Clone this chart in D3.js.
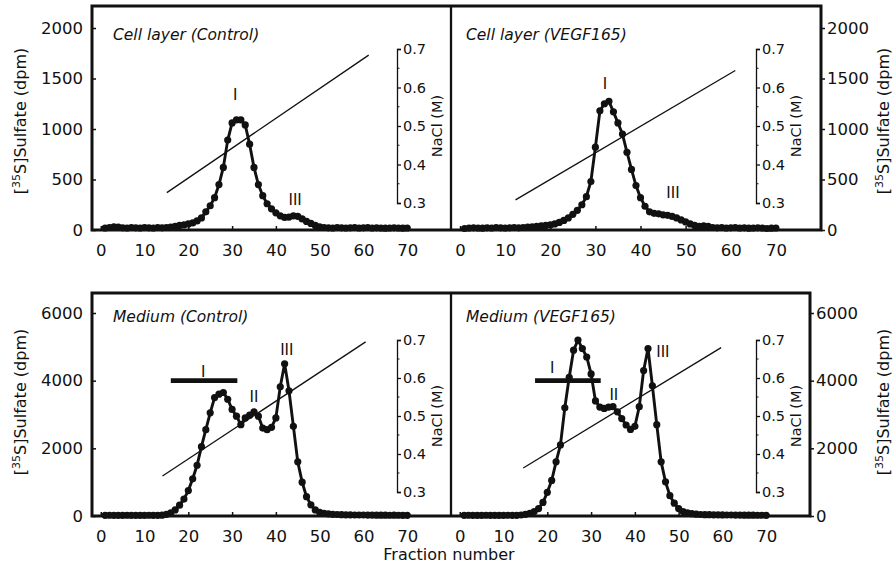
<!DOCTYPE html>
<html>
<head>
<meta charset="utf-8">
<script src="https://cdn.jsdelivr.net/npm/d3@7"></script>
<style>
  body { margin: 0; background: #fff; }
  svg { display: block; font-family: "DejaVu Sans", "Liberation Sans", Arial, sans-serif; }
</style>
</head>
<body>
<svg id="chart" width="896" height="564"></svg>
<script>
// tick values
const fractionTicks = [0, 10, 20, 30, 40, 50, 60, 70];
const cellTicks = [0, 500, 1000, 1500, 2000];
const mediumTicks = [0, 2000, 4000, 6000];
const naclTicks = [0.3, 0.4, 0.5, 0.6, 0.7];
const naclMinorTicks = [0.35, 0.45, 0.55, 0.65];

// [35S]sulfate (dpm) for fractions 1..70
const cellControl = [
  20, 25, 30, 28, 22, 20, 25, 22, 20, 25,
  22, 20, 25, 22, 25, 28, 35, 45, 50, 60,
  70, 90, 120, 180, 240, 320, 450, 620, 890, 1060,
  1090, 1090, 1040, 850, 620, 450, 340, 260, 210, 170,
  140, 125, 128, 140, 135, 110, 85, 65, 45, 32,
  25, 22, 20, 25, 22, 20, 22, 25, 20, 22,
  25, 20, 22, 20, 18, 20, 22, 20, 18, 20
];
const cellVegf = [
  15, 20, 22, 20, 18, 22, 20, 25, 22, 20,
  22, 25, 22, 25, 28, 30, 35, 40, 45, 50,
  60, 75, 95, 120, 155, 195, 250, 330, 480, 820,
  1180, 1250, 1275, 1170, 1060, 950, 770, 600, 440, 320,
  235, 180, 165, 160, 150, 145, 135, 120, 100, 80,
  60, 45, 35, 40, 35, 25, 22, 25, 20, 22,
  25, 20, 22, 18, 20, 22, 20, 15, 18, 20
];
const mediumControl = [
  20, 22, 20, 18, 20, 22, 20, 20, 18, 20,
  22, 20, 20, 25, 50, 90, 180, 320, 500, 750,
  1100, 1500, 2050, 2550, 3050, 3500, 3600, 3650, 3450, 3150,
  2950, 2700, 2900, 2980, 3080, 2950, 2600, 2550, 2620, 2900,
  3820, 4500, 3700, 2650, 1600, 1000, 570, 330, 180, 110,
  80, 60, 50, 45, 40, 35, 35, 30, 30, 30,
  28, 28, 25, 25, 25, 22, 25, 22, 20, 20
];
const mediumVegf = [
  20, 22, 20, 18, 20, 22, 20, 20, 18, 20,
  22, 20, 20, 30, 50, 80, 130, 220, 400, 700,
  1050, 1600, 2100, 3200, 4100, 4900, 5200, 4950, 4700, 4200,
  3400, 3220, 3180, 3220, 3230, 3080, 2880, 2690, 2560, 2650,
  3230, 4300, 4950, 3850, 2700, 1600, 1010, 600, 380, 220,
  130, 90, 70, 55, 45, 40, 38, 35, 35, 32,
  30, 30, 28, 28, 25, 25, 25, 22, 22, 20
];

// NaCl gradient ends: [fraction, M]
const naclCellControl = [[15.1, 0.327], [61.2, 0.684]];
const naclCellVegf = [[12.3, 0.308], [61.0, 0.644]];
const naclMediumControl = [[14.1, 0.342], [60.5, 0.695]];
const naclMediumVegf = [[14.5, 0.363], [59.7, 0.680]];

// peak labels: [text, fraction, dpm]
const peaksCellControl = [["I", 30.7, 1287], ["III", 44.4, 248]];
const peaksCellVegf = [["I", 32.1, 1396], ["III", 47.2, 317]];
const peaksMediumControl = [["I", 23.4, 4106], ["II", 35.0, 3368], ["III", 42.5, 4756]];
const peaksMediumVegf = [["I", 21.1, 4224], ["II", 35.2, 3427], ["III", 46.4, 4697]];

// pooled fractions bar: [from, to, dpm]
const poolMediumControl = [16.0, 31.2, 4000];
const poolMediumVegf = [17.2, 32.2, 4000];

const svg = d3.select("#chart");
const INK = "#111";
const TICK_FONT = 16.5;

// two rows of panels sharing the y scale
const rows = {
  cell:   {y0: 6,   y1: 230, yMax: 2218, ticks: cellTicks,   naclTop: 49,  naclBottom: 203, labelY: 121, xEnd: 821},
  medium: {y0: 293, y1: 516, yMax: 6591, ticks: mediumTicks, naclTop: 340, naclBottom: 492, labelY: 402, xEnd: 810}
};

const panels = [
  {title: "Cell layer (Control)", row: "cell", x0: 92, x1: 451, side: "left",
   values: cellControl, nacl: naclCellControl, naclX: 397, peaks: peaksCellControl, pool: null},
  {title: "Cell layer (VEGF165)", row: "cell", x0: 451, x1: 821, side: "right",
   values: cellVegf, nacl: naclCellVegf, naclX: 756, peaks: peaksCellVegf, pool: null},
  {title: "Medium (Control)", row: "medium", x0: 92, x1: 451, side: "left",
   values: mediumControl, nacl: naclMediumControl, naclX: 397, peaks: peaksMediumControl, pool: poolMediumControl},
  {title: "Medium (VEGF165)", row: "medium", x0: 451, x1: 810, side: "right",
   values: mediumVegf, nacl: naclMediumVegf, naclX: 756, peaks: peaksMediumVegf, pool: poolMediumVegf}
];

function styleAxis(g, size) {
  g.attr("font-family", null).attr("font-size", null);
  g.selectAll(".tick text").attr("fill", INK).style("font-size", size + "px");
  g.selectAll(".tick line").attr("stroke", INK).attr("stroke-width", 1.5);
}

function sulfateLabel(g, x, y) {
  var t = g.append("text")
    .attr("transform", "translate(" + x + "," + y + ") rotate(-90)")
    .attr("text-anchor", "middle")
    .attr("fill", INK)
    .style("font-size", "16px");
  t.append("tspan").text("[");
  t.append("tspan").attr("dy", -6).style("font-size", "11px").text("35");
  t.append("tspan").attr("dy", 6).text("S]Sulfate (dpm)");
}

function drawPanel(p) {
  var r = rows[p.row];
  var g = svg.append("g").attr("class", "panel");
  var x = d3.scaleLinear().domain([-2, 80]).range([p.x0, p.x1]);
  var y = d3.scaleLinear().domain([0, r.yMax]).range([r.y1, r.y0]);
  var yn = d3.scaleLinear().domain([0.3, 0.7]).range([r.naclBottom, r.naclTop]);

  // x axis (ticks point inward)
  var xg = g.append("g")
    .attr("transform", "translate(0," + r.y1 + ")")
    .call(d3.axisBottom(x).tickValues(fractionTicks)
            .tickSizeInner(-4).tickSizeOuter(0).tickPadding(14));
  xg.select(".domain").remove();
  styleAxis(xg, TICK_FONT);

  // outer y axis
  if (p.side === "left") {
    var yl = g.append("g")
      .attr("transform", "translate(" + p.x0 + ",0)")
      .call(d3.axisLeft(y).tickValues(r.ticks).tickFormat(d3.format("d"))
              .tickSizeInner(-4).tickSizeOuter(0).tickPadding(9));
    yl.select(".domain").remove();
    styleAxis(yl, TICK_FONT);
  } else {
    var yr = g.append("g")
      .attr("transform", "translate(" + p.x1 + ",0)")
      .call(d3.axisRight(y).tickValues(r.ticks).tickFormat(d3.format("d"))
              .tickSizeInner(4).tickSizeOuter(0).tickPadding(2));
    yr.select(".domain").remove();
    styleAxis(yr, TICK_FONT);
  }

  // NaCl axis inside the panel
  var ng = g.append("g")
    .attr("transform", "translate(" + p.naclX + ",0)")
    .call(d3.axisRight(yn).tickValues(naclTicks)
            .tickSizeInner(4).tickSizeOuter(4).tickPadding(2)
            .tickFormat(d3.format(".1f")));
  ng.select(".domain").attr("stroke", INK).attr("stroke-width", 1.3);
  styleAxis(ng, 14.5);
  ng.selectAll(".tick line").attr("stroke-width", 1.3);
  ng.selectAll(".minor")
    .data(naclMinorTicks)
    .enter().append("line")
    .attr("class", "minor")
    .attr("x1", 0).attr("x2", 2.5)
    .attr("y1", d => yn(d)).attr("y2", d => yn(d))
    .attr("stroke", INK).attr("stroke-width", 1);
  g.append("text")
    .attr("transform", "translate(" + (p.naclX + 45) + "," + ((r.naclTop + r.naclBottom) / 2) + ") rotate(-90)")
    .attr("text-anchor", "middle")
    .attr("fill", INK)
    .style("font-size", "14.5px")
    .text("NaCl (M)");

  // NaCl gradient
  g.append("line")
    .attr("x1", x(p.nacl[0][0])).attr("y1", yn(p.nacl[0][1]))
    .attr("x2", x(p.nacl[1][0])).attr("y2", yn(p.nacl[1][1]))
    .attr("stroke", INK).attr("stroke-width", 1.3);

  // pooled fraction bar
  if (p.pool) {
    g.append("line")
      .attr("x1", x(p.pool[0])).attr("x2", x(p.pool[1]))
      .attr("y1", y(p.pool[2])).attr("y2", y(p.pool[2]))
      .attr("stroke", INK).attr("stroke-width", 4.7);
  }

  // elution profile
  var line = d3.line()
    .x((d, i) => x(i + 1))
    .y(d => y(d));
  g.append("path")
    .datum(p.values)
    .attr("d", line)
    .attr("fill", "none")
    .attr("stroke", INK)
    .attr("stroke-width", 2.9)
    .attr("stroke-linejoin", "round");
  g.selectAll(".dot")
    .data(p.values)
    .enter().append("circle")
    .attr("class", "dot")
    .attr("cx", (d, i) => x(i + 1))
    .attr("cy", d => y(d))
    .attr("r", 3.6)
    .attr("fill", INK);

  // peak labels
  g.selectAll(".peak")
    .data(p.peaks)
    .enter().append("text")
    .attr("class", "peak")
    .attr("x", d => x(d[1]))
    .attr("y", d => y(d[2]))
    .attr("text-anchor", "middle")
    .attr("fill", INK)
    .style("font-size", "15px")
    .text(d => d[0]);

  // title
  g.append("text")
    .attr("x", p.x0 + (p.side === "left" ? 21 : 15))
    .attr("y", r.y0 + (p.row === "cell" ? 34 : 29))
    .attr("fill", INK)
    .style("font-size", "15.5px")
    .style("font-style", "italic")
    .text(p.title);
}

panels.forEach(drawPanel);

// frames and dividers
Object.keys(rows).forEach(function (k) {
  var r = rows[k];
  svg.append("rect")
    .attr("x", 92).attr("y", r.y0)
    .attr("width", r.xEnd - 92).attr("height", r.y1 - r.y0)
    .attr("fill", "none")
    .attr("stroke", INK).attr("stroke-width", 3);
  svg.append("line")
    .attr("x1", 451).attr("x2", 451)
    .attr("y1", r.y0).attr("y2", r.y1)
    .attr("stroke", INK).attr("stroke-width", 2.3);
  sulfateLabel(svg, 26, r.labelY);
  sulfateLabel(svg, 889, r.labelY);
});

svg.append("text")
  .attr("x", 449).attr("y", 560)
  .attr("text-anchor", "middle")
  .attr("fill", INK)
  .style("font-size", "16px")
  .text("Fraction number");
</script>
</body>
</html>
